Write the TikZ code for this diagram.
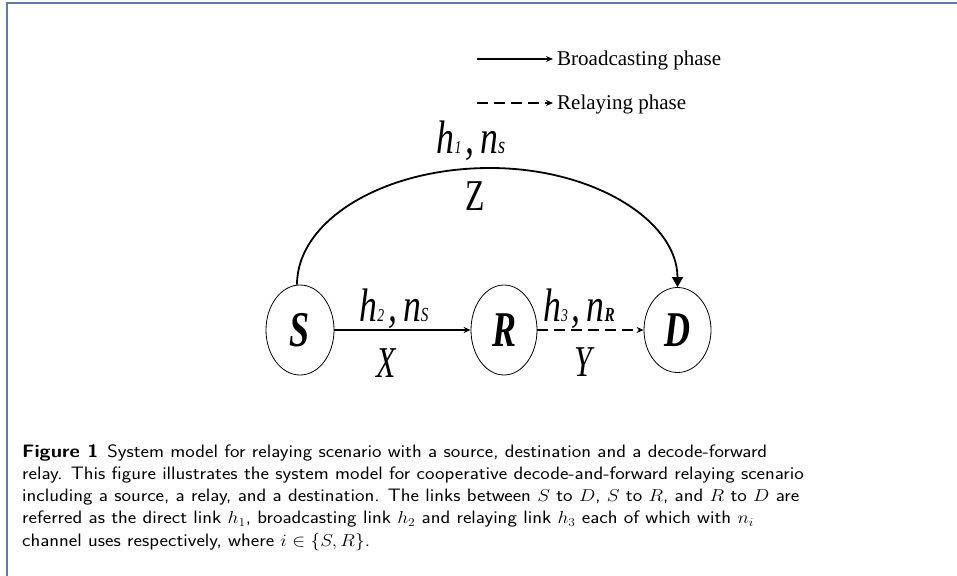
\documentclass[tikz,border=0pt]{standalone}
\usepackage{fontspec}
\setmainfont{Liberation Serif}
\usepackage{graphicx}
\usetikzlibrary{arrows.meta,shapes.geometric,calc}
\definecolor{framecol}{RGB}{96,124,164}
\newcommand\sqz[1]{\scalebox{0.72}[1]{#1}}
\newcommand\sqc[1]{\scalebox{0.76}[1]{#1}}
\newcommand\wid[1]{\scalebox{1.12}[1]{#1}}
\newcommand\sbs[2]{{\fontsize{#1}{#1}\selectfont #2}}
\newcommand\chlab[4]{\sqc{h\sbs{18}{#1}\hspace{5pt},\hspace{8pt}n\sbs{#2}{#3#4}}}
\begin{document}
\begin{tikzpicture}[x=1pt,y=-1pt,
  frameline/.style={draw=framecol, line width=1.6pt},
  agent/.style={ellipse, draw, line width=0.8pt, inner sep=0pt,
    font=\fontsize{50}{50}\selectfont\bfseries\itshape},
  chan/.style={font=\fontsize{47}{47}\selectfont\itshape, inner sep=0pt, anchor=base},
  varlbl/.style={font=\fontsize{44}{44}\selectfont, inner sep=0pt, anchor=base},
  bcast/.style={line width=1.4pt, -{Stealth[length=7pt,width=6pt]}},
  relaying/.style={bcast, dash pattern=on 11pt off 6pt},
  arcline/.style={line width=1.8pt, -{Triangle[length=10pt,width=11pt]}},
  legtxt/.style={font=\fontsize{21}{21}\selectfont, anchor=base west, inner sep=0pt},
  captxt/.style={font=\sffamily\fontsize{18}{22}\selectfont, anchor=base west, inner sep=0pt}
]
\useasboundingbox (0,0) rectangle (957,575);
% frame
\draw[frameline] (7,576) -- (7,3) -- (958,3);
% legend
\coordinate (b0) at (477,59);
\node[legtxt] (btxt) at (557,66) {Broadcasting phase};
\draw[bcast, shorten >=4pt] (b0) -- (b0 -| btxt.west);
\coordinate (r0) at (477,103);
\node[legtxt] (rtxt) at (557,110) {Relaying phase};
\draw[relaying, shorten >=4pt] (r0) -- (r0 -| rtxt.west);
% agents
\node[agent, minimum width=68pt, minimum height=90pt] (S) at (300,330) {\sqz{S}};
\node[agent, minimum width=66pt, minimum height=90pt] (R) at (504,330) {\sqz{R}};
\node[agent, minimum width=67pt, minimum height=85pt] (D) at (677.5,330) {\sqz{D}};
% links
\draw[bcast] (S.east) -- (R.west);
\draw[relaying] (R.east) -- (D.west);
\coordinate (apex) at (490,168);
\draw[arcline] ([xshift=-3pt]S.north) .. controls +(0,-64) and +(-107,0) .. (apex)
  .. controls +(104,0) and +(0,-66) .. (D.north);
% labels
\node[chan] (l1) at (471,153) {\chlab{1}{24}{}{s}};
\node[varlbl] (z) at (475,210) {\sqz{Z}};
\node[chan] (l2) at (394,321) {\chlab{2}{20}{}{S}};
\node[varlbl, font=\fontsize{44}{44}\selectfont\itshape] (x) at (386,377) {\sqz{X}};
\node[chan] (l3) at (579,321) {\chlab{3}{20}{\bfseries}{R}};
\node[varlbl, font=\fontsize{44}{44}\selectfont\itshape] (y) at (583,376) {\sqz{Y}};
% caption
\node[captxt] (c1) at (22,457.3) {\wid{\textbf{Figure 1}\hspace{8pt}System model for relaying scenario with a source, destination and a decode-forward}};
\node[captxt] (c2) at (22,479.5) {\wid{relay. This figure illustrates the system model for cooperative decode-and-forward relaying scenario}};
\node[captxt] (c3) at (22,501.7) {\wid{including a source, a relay, and a destination. The links between $S$ to $D$, $S$ to $R$, and $R$ to $D$ are}};
\node[captxt] (c4) at (22,523.9) {\wid{referred as the direct link $h_1$, broadcasting link $h_2$ and relaying link $h_3$ each of which with $n_i$}};
\node[captxt] (c5) at (22,546.1) {\wid{channel uses respectively, where $i \in \{S,R\}$.}};
\end{tikzpicture}
\end{document}
